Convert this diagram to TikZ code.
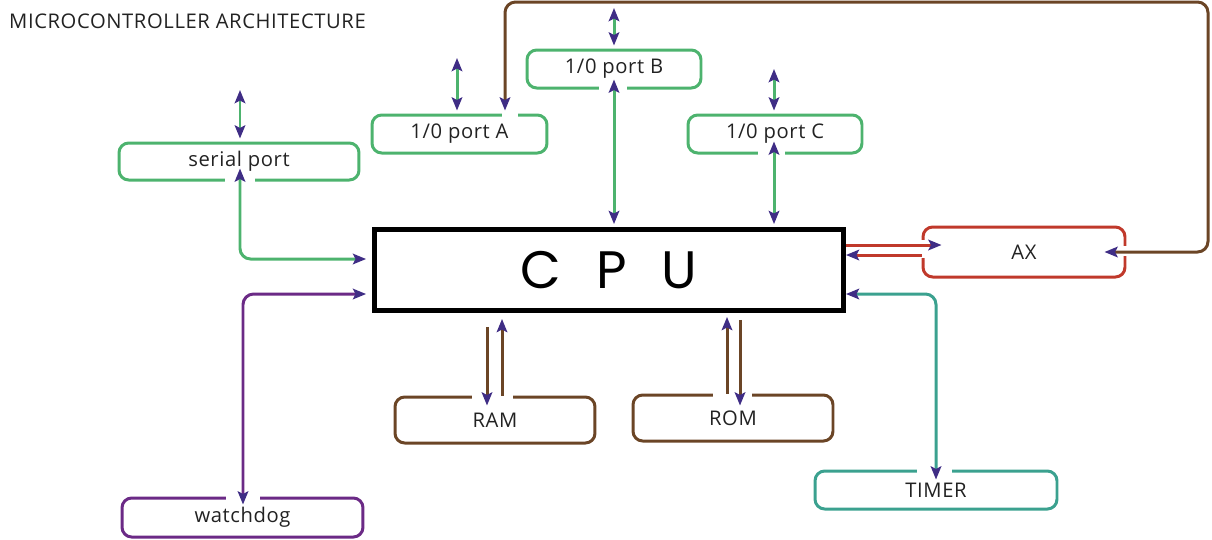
\documentclass[tikz,border=0pt]{standalone}
\usepackage{fontspec}
\setmainfont{Open Sans}[LetterSpace=3]
\newfontfamily\cpufont{Poppins}[WordSpace=2.5]
\usetikzlibrary{arrows.meta,calc}
\definecolor{gr}{HTML}{4DB36E}
\definecolor{tipc}{HTML}{3F2D85}
\definecolor{rd}{HTML}{C0392B}
\definecolor{br}{HTML}{6B4526}
\definecolor{tl}{HTML}{3BA18F}
\definecolor{pu}{HTML}{6B2A86}
\definecolor{txt}{HTML}{222222}
\begin{document}
\begin{tikzpicture}[x=0.02cm,y=-0.02cm,
  >={Stealth[length=7.5pt,width=6pt,inset=1.5pt,color=tipc]},
  box/.style={draw,rounded corners=5.5pt,line width=1.7pt,inner sep=0pt,text=txt,font=\fontsize{11.5}{13}\selectfont},
  conn/.style={line width=1.7pt,rounded corners=6pt},
  gap/.style={draw=white,line width=6pt}]
\useasboundingbox (0,0) rectangle (1212,539);
% title
\node[anchor=west,text=txt,font=\fontsize{11.5}{13}\selectfont] (title) at (3,21) {MICROCONTROLLER ARCHITECTURE};
% nodes
\node[box,draw=gr,minimum width=4.8cm,minimum height=0.74cm] (serial) at (239,161.5) {serial port};
\node[box,draw=gr,minimum width=3.5cm,minimum height=0.76cm] (pa) at (459.5,134) {1/0 port A};
\node[box,draw=gr,minimum width=3.48cm,minimum height=0.76cm] (pb) at (614,69) {1/0 port B};
\node[box,draw=gr,minimum width=3.48cm,minimum height=0.76cm] (pc) at (775,134) {1/0 port C};
\node[draw=black,line width=2.8pt,minimum width=9.38cm,minimum height=1.62cm,inner sep=0pt,text=black,font=\cpufont\fontsize{30}{32}\selectfont] (cpu) at (609,270) {C P U};
\node[box,draw=rd,minimum width=4.04cm,minimum height=1.0cm] (ax) at (1024,252) {AX};
\node[box,draw=br,minimum width=4.0cm,minimum height=0.92cm] (ram) at (495,420) {RAM};
\node[box,draw=br,minimum width=4.0cm,minimum height=0.92cm] (rom) at (733,418) {ROM};
\node[box,draw=tl,minimum width=4.84cm,minimum height=0.76cm] (timer) at (936,490) {TIMER};
\node[box,draw=pu,minimum width=4.82cm,minimum height=0.78cm] (wd) at (242.5,517.5) {watchdog};
% gaps in borders
\draw[gap] ($(serial.south)+(-14,0)$) -- ($(serial.south)+(16,0)$);
\draw[gap] ($(pa.north)+(42,0)$) -- ($(pa.north)+(58,0)$);
\draw[gap] ($(pb.south)+(-15,0)$) -- ($(pb.south)+(13,0)$);
\draw[gap] ($(pc.south)+(-17,0)$) -- ($(pc.south)+(10,0)$);
\draw[gap] ($(ax.west)+(0,-12)$) -- ($(ax.west)+(0,6)$);
\draw[gap] ($(ax.east)+(0,-6)$) -- ($(ax.east)+(0,4)$);
\draw[gap] ($(ram.north)+(-23,0)$) -- ($(ram.north)+(18,0)$);
\draw[gap] ($(rom.north)+(-20,0)$) -- ($(rom.north)+(19,0)$);
\draw[gap] ($(timer.north)+(-19,0)$) -- ($(timer.north)+(16,0)$);
\draw[gap] ($(wd.north)+(-17,0)$) -- ($(wd.north)+(17,0)$);
% free ends
\coordinate (serialext) at (240,90);
\coordinate (paext) at (457,58);
\coordinate (pbext) at (614,8);
\coordinate (pcext) at (774,69);
\coordinate (axbus) at (1208,2);
% connectors
\draw[conn,draw=gr,<->] (serialext) -- ($(serial.north)+(1,-3)$);
\draw[conn,draw=gr,<->] (paext) -- ($(pa.north)+(-2.5,-3)$);
\draw[conn,draw=gr,<->] (pbext) -- ($(pb.north)+(0,-3)$);
\draw[conn,draw=gr,<->] (pcext) -- ($(pc.north)+(-1,-3)$);
\draw[conn,draw=gr,<->] ($(cpu.west)+(-6,-11)$) -| ($(serial.south)+(1,-13)$);
\draw[conn,draw=gr,<->] ($(cpu.north)+(5,-3)$) -- ($(pb.south)+(0,-10)$);
\draw[conn,draw=gr,<->] ($(cpu.north)+(165,-3)$) -- ($(pc.south)+(-1,-13)$);
\draw[conn,draw=rd,->] ($(cpu.east)+(0,-25)$) -- ($(ax.west)+(20,-7)$);
\draw[conn,draw=rd,->] ($(ax.west)+(0,3)$) -- ($(cpu.east)+(0,-15)$);
\draw[conn,draw=br,<->] ($(ax.east)+(-22,0)$) -| (axbus) -| ($(pa.north)+(45.5,-3)$);
\draw[conn,draw=tl,<->] ($(cpu.east)+(0,24)$) -| ($(timer.north)+(0,10)$);
\draw[conn,draw=pu,<->] ($(cpu.west)+(-6,24)$) -| ($(wd.north)+(0.5,8)$);
\draw[conn,draw=br,->] ($(cpu.south)+(-122,14)$) -- ($(ram.north)+(-8,10)$);
\draw[conn,draw=br,->] ($(ram.north)+(7,0)$) -- ($(cpu.south)+(-107,6)$);
\draw[conn,draw=br,->] ($(rom.north)+(-6,0)$) -- ($(cpu.south)+(118,4)$);
\draw[conn,draw=br,->] ($(cpu.south)+(131,7)$) -- ($(rom.north)+(7,12)$);
\end{tikzpicture}
\end{document}
